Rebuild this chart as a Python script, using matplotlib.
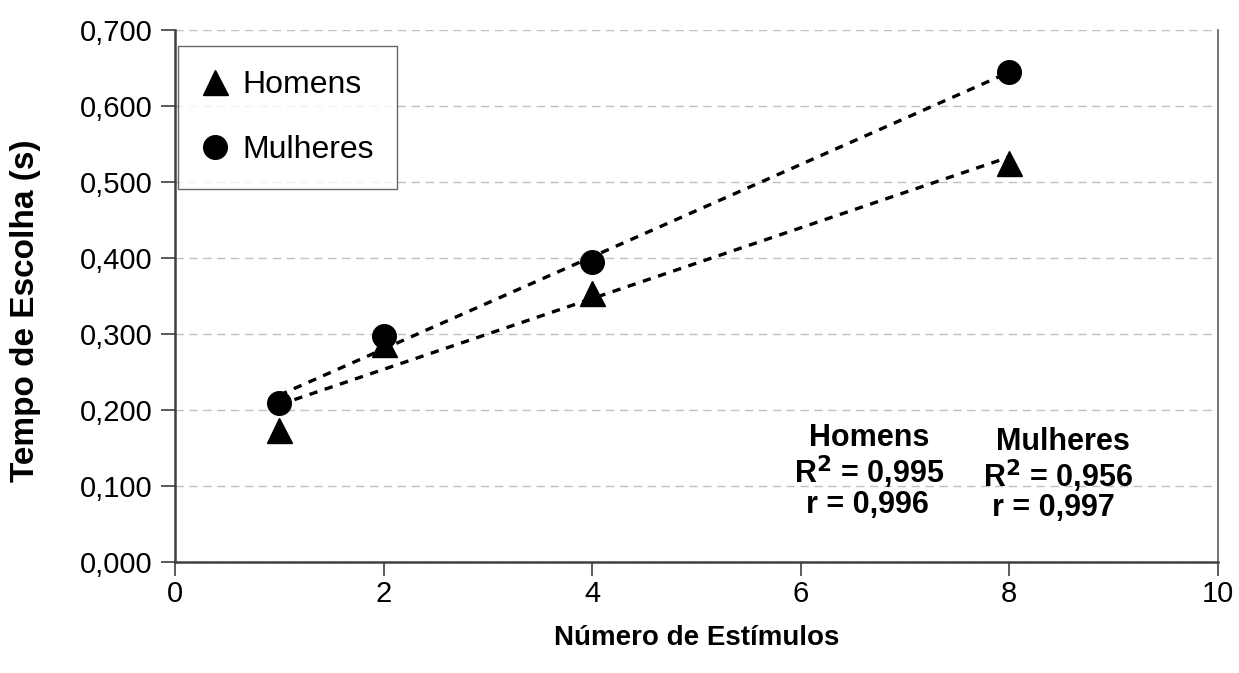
import numpy as np
import matplotlib
matplotlib.use('Agg')
import matplotlib.pyplot as plt
from matplotlib.lines import Line2D

plt.rcParams['font.family'] = ['Liberation Sans', 'DejaVu Sans']

# Dados
estimulos = [1, 2, 4, 8]
homens = [0.174, 0.287, 0.354, 0.525]
mulheres = [0.209, 0.297, 0.395, 0.645]

yticks = [0.0, 0.1, 0.2, 0.3, 0.4, 0.5, 0.6, 0.7]
ytick_labels = ['0,000', '0,100', '0,200', '0,300', '0,400', '0,500', '0,600', '0,700']
xticks = [0, 2, 4, 6, 8, 10]

fig = plt.figure(figsize=(12.39, 6.73), dpi=100)
ax = fig.add_axes([0.1412, 0.1649, 0.8418, 0.7905])

# grade horizontal tracejada
for yv in yticks:
    ax.axhline(yv, color='#c0c0c0', lw=1.0, ls=(0, (6, 4)), zorder=0)

# linhas de tendência (ajuste linear)
xs = np.array([estimulos[0], estimulos[-1]])
for serie in (homens, mulheres):
    a, b = np.polyfit(estimulos, serie, 1)
    ax.plot(xs, a * xs + b, color='black', lw=2.4, ls=(0, (2.5, 2.3)), zorder=2)

ax.plot(estimulos, homens, ls='none', marker='^', markersize=18, color='black', zorder=3)
ax.plot(estimulos, mulheres, ls='none', marker='o', markersize=17, color='black', zorder=3)

ax.set_xlim(0, 10)
ax.set_ylim(0, 0.7)
ax.set_xticks(xticks)
ax.set_xticklabels([str(v) for v in xticks])
ax.set_yticks(yticks)
ax.set_yticklabels(ytick_labels)
ax.tick_params(axis='both', direction='out', length=10, width=1.2, color='#404040',
               labelsize=21, pad=6)
ax.tick_params(axis='x', pad=3)

for s in ['left', 'bottom']:
    ax.spines[s].set_color('#404040')
    ax.spines[s].set_linewidth(1.8)
ax.spines['right'].set_color('#606060')
ax.spines['right'].set_linewidth(1.2)
ax.spines['top'].set_visible(False)

ax.set_xlabel('Número de Estímulos', fontsize=20, fontweight='bold', labelpad=12)
ax.set_ylabel('Tempo de Escolha (s)', fontsize=24, fontweight='bold')
ax.yaxis.set_label_coords(-0.128, 0.472)

# legenda
handles = [
    Line2D([0], [0], ls='none', marker='^', markersize=18, color='black', label='Homens'),
    Line2D([0], [0], ls='none', marker='o', markersize=17, color='black', label='Mulheres'),
]
leg = ax.legend(handles=handles, loc='upper left', bbox_to_anchor=(0.003, 0.97),
                fontsize=23, frameon=True, fancybox=False, edgecolor='#404040',
                handlelength=0.8, handletextpad=0.45, labelspacing=1.1,
                borderpad=0.75, borderaxespad=0)
leg.get_frame().set_linewidth(1.0)

# estatísticas
txt = dict(fontsize=22, fontweight='bold', ha='center', va='center')
ax.text(6.66, 0.163, 'Homens', **txt)
ax.text(6.66, 0.118, r'R$^\mathbf{2}$ = 0,995', **txt)
ax.text(6.64, 0.075, 'r = 0,996', **txt)
ax.text(8.51, 0.158, 'Mulheres', **txt)
ax.text(8.47, 0.113, r'R$^\mathbf{2}$ = 0,956', **txt)
ax.text(8.42, 0.071, 'r = 0,997', **txt)

fig.savefig('out.png', dpi=100)
